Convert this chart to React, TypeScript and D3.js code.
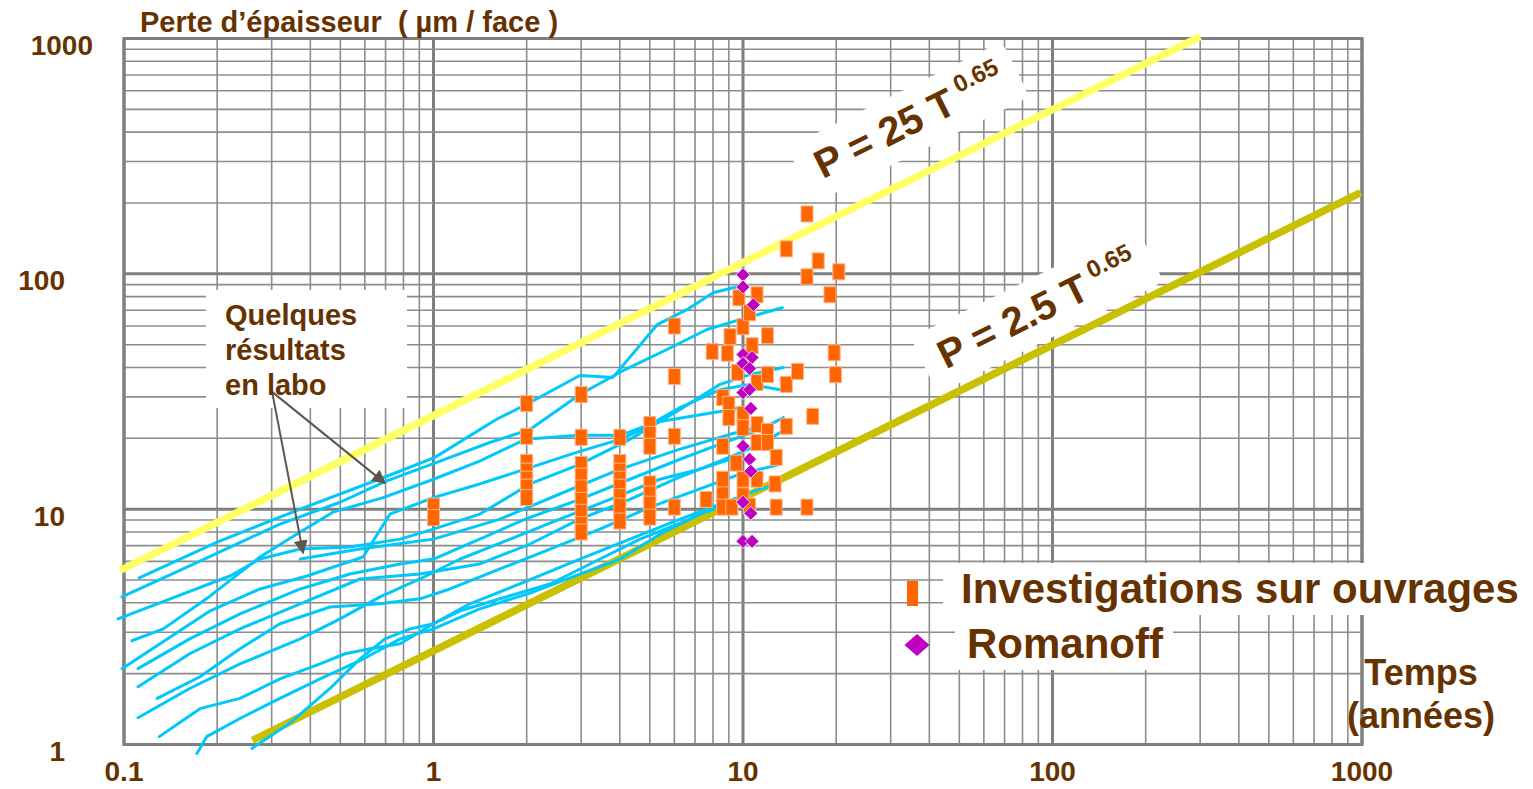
import React from 'react';
import * as d3 from 'd3';

// ---------- data ----------
const xTickValues = [0.1, 1, 10, 100, 1000];
const xTickLabels = ['0.1', '1', '10', '100', '1000'];
const yTickValues = [1, 10, 100, 1000];
const yTickLabels = ['1', '10', '100', '1000'];

const lawExponent = 0.65;
const upperLawCoef = 25;
const lowerLawCoef = 2.5;
const upperLawT = [0.097, 300];
const lowerLawT = [0.26, 990];

// laboratory curves: [T (années), P (µm/face)]
const labCurves: [number, number][][] = [
  [[0.112, 5.1], [0.2, 7.25], [0.371, 10], [0.697, 13.7], [1.01, 16.6], [1.6, 24.1], [2.05, 28.4], [2.97, 37], [3.8, 36.3], [5.28, 60.8], [6.59, 70.4], [8.0, 83.1], [9.57, 88.1]],
  [[0.0985, 4.24], [0.176, 6.02], [0.319, 8.64], [0.499, 10.7], [0.697, 13.1], [1.05, 16], [1.52, 19.2], [2.05, 21.8], [2.97, 30.7], [4.16, 39.2], [5.68, 47.7], [7.65, 58], [9.78, 63.9], [13.4, 71.8]],
  [[0.0957, 3.42], [0.141, 4.16], [0.22, 5.2], [0.275, 6.14], [0.371, 6.77], [0.537, 6.9], [0.78, 7.46], [1.0, 8.23], [1.41, 9.52], [2.05, 12.8], [2.97, 15.5], [4.31, 19.8], [6.26, 26.5], [8.43, 33.9], [10.5, 37.3], [13.5, 40]],
  [[0.106, 2.76], [0.134, 3.1], [0.19, 4.28], [0.275, 6.26], [0.371, 8.0], [0.473, 9.71], [0.687, 11.2], [1.0, 13.4], [1.41, 16], [1.98, 19.8], [2.97, 20.6], [4.01, 20.6], [5.01, 22.9], [6.26, 27], [8.43, 32.2], [10.5, 33.9], [13.2, 32.2]],
  [[0.0985, 2.1], [0.138, 2.81], [0.19, 3.7], [0.275, 4.58], [0.39, 5.2], [0.592, 6.26], [0.723, 9.52], [1.0, 11.2], [1.41, 12.8], [1.98, 14.8], [2.97, 17.6], [4.01, 19.8], [5.39, 23.6], [8.43, 26], [9.78, 27]],
  [[0.111, 2.1], [0.163, 2.81], [0.237, 3.59], [0.371, 4.58], [0.537, 5.3], [0.78, 5.85], [1.0, 6.14], [1.41, 7.46], [1.98, 9.07], [2.97, 11], [4.31, 13.4], [6.26, 16.3], [8.43, 18.9], [11.4, 21.8], [13.5, 24.5]],
  [[0.111, 1.76], [0.163, 2.43], [0.237, 3.1], [0.371, 3.96], [0.579, 5.05], [0.904, 5.3], [1.41, 5.85], [2.05, 7.11], [2.97, 9.07], [4.31, 11], [6.26, 13.7], [8.43, 16], [11.4, 18.9], [13.4, 21.4]],
  [[0.128, 1.57], [0.176, 1.94], [0.237, 2.55], [0.319, 3.26], [0.463, 3.84], [0.672, 3.96], [0.904, 4.16], [1.13, 4.58], [1.64, 5.57], [2.38, 6.77], [3.45, 8.23], [5.01, 10.2], [7.26, 12.2], [9.78, 14.1], [13.2, 15.5]],
  [[0.111, 1.3], [0.163, 1.73], [0.237, 2.2], [0.371, 2.81], [0.499, 3.42], [0.672, 4.24], [0.904, 5.05], [1.22, 6.14], [1.77, 7.46], [2.56, 9.07], [3.72, 11], [5.39, 13.4], [7.26, 14.8], [9.08, 16.3]],
  [[0.13, 1.08], [0.176, 1.42], [0.237, 1.57], [0.319, 1.9], [0.43, 2.2], [0.518, 2.43], [0.624, 2.55], [0.78, 2.68], [1.0, 3.26], [1.31, 3.96], [1.9, 4.81], [2.97, 6.14], [4.31, 7.46], [6.26, 9.07], [8.43, 10.5], [11.4, 12.2], [13.2, 12.8]],
  [[0.172, 0.916], [0.185, 1.08], [0.237, 1.29], [0.319, 1.57], [0.43, 1.9], [0.579, 2.27], [0.78, 2.81], [1.0, 3.1], [1.41, 3.77], [2.05, 4.4], [2.97, 5.3], [4.01, 6.14], [5.39, 7.83], [7.26, 9.52], [9.78, 11]],
  [[0.259, 0.962], [0.343, 1.23], [0.463, 1.73], [0.579, 2.31], [0.697, 2.81], [0.84, 3.1], [1.0, 3.26], [1.22, 3.7], [1.64, 4.16], [2.38, 4.81], [3.45, 6.14], [4.65, 7.46], [6.74, 9.07], [8.0, 10.3]],
  [[0.371, 6.14], [0.579, 6.77], [1.0, 7.46], [1.64, 9.07], [2.56, 11.6], [4.01, 14.8], [6.26, 18], [9.08, 20.8], [12.2, 22.9]],
];

// Investigations sur ouvrages
const investigations: [number, number][] = [
  [1, 10.3], [1, 9.2],
  [2, 28.1], [2, 20.4], [2, 15.8], [2, 14.5], [2, 13.4], [2, 12.4], [2, 11.2],
  [3, 30.7], [3, 20.2], [3, 15.5], [3, 13.8], [3, 12.3], [3, 10.9], [3, 9.7], [3, 8.6], [3, 8.0],
  [4, 20.2], [4, 15.8], [4, 14.5], [4, 13.4], [4, 12.4], [4, 11.3], [4, 10.3], [4, 8.9],
  [5, 22.9], [5, 20.8], [5, 18.5], [5, 12.8], [5, 11.6], [5, 10.5], [5, 9.25],
  [6, 60], [6, 36.6], [6, 20.4], [6, 10.2],
  [7.6, 11.0], [7.95, 46.7], [8.6, 29.8], [8.6, 18.5], [8.6, 13.4], [8.6, 11.5], [8.6, 10.2],
  [8.9, 46], [9.0, 27.9], [9.0, 24.5], [9.08, 54.1], [9.2, 10.2], [9.5, 15.7], [9.6, 38.1],
  [9.7, 79.1], [10, 59.6], [10, 25.3], [10, 22.2], [10, 13.4], [10, 11.4], [10.5, 68.3],
  [10.5, 10.3], [10.7, 49.5], [11.1, 81.5], [11.1, 34.5], [11.1, 22.9], [11.1, 19.2],
  [11.1, 13.4], [12, 54.6], [12, 37.3], [12, 21.4], [12, 19.2], [12.7, 12.8], [12.8, 16.6],
  [12.8, 10.2], [13.8, 127.6], [13.8, 33.9], [13.8, 22.5], [15, 38.5], [16.1, 179.6],
  [16.1, 97.1], [16.1, 10.2], [16.8, 24.8], [17.5, 113.5], [19.1, 81.5], [19.7, 46.2],
  [19.9, 37.3], [20.4, 102],
];

// Romanoff
const romanoff: [number, number][] = [
  [10, 99], [10, 88], [10.8, 73.9], [10, 45.4], [10.7, 44.1], [10, 41.6], [10.5, 39.6],
  [10, 31.3], [10.5, 32.2], [10.6, 26.8], [10, 18.5], [10.5, 16.3], [10.6, 14.5],
  [10, 10.7], [10.6, 9.6], [10, 7.3], [10.7, 7.3],
];

// annotation arrows (data coordinates): tail, tips
const arrowTail: [number, number] = [0.301, 31.5];
const arrowTips: [number, number][] = [[0.379, 6.51], [0.697, 12.9]];

const labelLines = ['Quelques', 'résultats', 'en labo'];
const legendLabels = ['Investigations sur ouvrages', 'Romanoff'];

// ---------- styles ----------
const FONT = '"Liberation Sans", Arial, Helvetica, sans-serif';
const BROWN = '#663300';
const GRID = '#8c8c8c';
const BLUE = '#00c8fa';
const ORANGE = '#ff6600';
const MAGENTA = '#c000c0';

export default function App() {
  const W = 1533, H = 789;
  const x = d3.scaleLog().domain([0.1, 1000]).range([124, 1362]);
  const y = d3.scaleLog().domain([1, 1000]).range([744.5, 38.5]);
  const line = d3.line<[number, number]>().x(d => x(d[0])).y(d => y(d[1]));

  const isMajor = (v: number) => Math.abs(Math.log10(v) - Math.round(Math.log10(v))) < 1e-9;
  const gridX = x.ticks();
  const gridY = y.ticks();

  const law = (c: number, ts: number[]) => ts.map(t => [t, c * Math.pow(t, lawExponent)] as [number, number]);
  const upperLaw = law(upperLawCoef, upperLawT);
  const lowerLaw = law(lowerLawCoef, lowerLawT);

  const angle = (Math.atan(lawExponent * (y(1) - y(10)) / (x(10) - x(1))) * 180) / Math.PI;

  const upperAnchorT = 18.1;
  const lowerAnchorT = 45.3;
  const ua = [x(upperAnchorT), y(upperLawCoef * Math.pow(upperAnchorT, lawExponent)) - 44];
  const la = [x(lowerAnchorT), y(lowerLawCoef * Math.pow(lowerAnchorT, lawExponent)) - 28];

  const [x0, x1] = x.range();
  const [yb, yt] = y.range();

  const diamond = (cx: number, cy: number, r: number, ry: number) =>
    `M${cx},${cy - ry}L${cx + r},${cy}L${cx},${cy + ry}L${cx - r},${cy}Z`;

  const lawLabel = (pos: number[], main: string, boxW: number, withText: boolean) => (
    <g transform={`translate(${pos[0]},${pos[1]}) rotate(${-angle})`}>
      {withText ? (
        <text fontFamily={FONT} fontWeight="bold" fontSize={40} fill={BROWN} style={{ whiteSpace: 'pre' }}>
          {main}
          <tspan dx={8} dy={-17} fontSize={24}>0.65</tspan>
        </text>
      ) : (
        <rect x={-18} y={-44} width={boxW} height={62} rx={10} fill="#fff" />
      )}
    </g>
  );

  return (
    <div style={{ position: 'absolute', left: 0, top: 0 }}>
      <svg width={W} height={H} viewBox={`0 0 ${W} ${H}`} style={{ display: 'block', background: '#fff' }}>
        {/* grid */}
        <g>
          {gridX.map((v, i) => (
            <line key={'gx' + i} x1={x(v)} x2={x(v)} y1={yt} y2={yb}
              stroke={isMajor(v) ? '#7f7f7f' : GRID} strokeWidth={isMajor(v) ? 3 : 1.6} />
          ))}
          {gridY.map((v, i) => (
            <line key={'gy' + i} x1={x0} x2={x1} y1={y(v)} y2={y(v)}
              stroke={isMajor(v) ? '#7f7f7f' : GRID} strokeWidth={isMajor(v) ? 3 : 1.6} />
          ))}
          <rect x={x0} y={yt} width={x1 - x0} height={yb - yt} fill="none" stroke="#7f7f7f" strokeWidth={3} />
        </g>

        {/* white label boxes over the grid */}
        <rect x={206} y={290} width={201} height={118} fill="#fff" />
        <rect x={943} y={563} width={590} height={52} fill="#fff" />
        <rect x={955} y={612} width={218} height={58} fill="#fff" />
        {lawLabel(ua, 'P = 25 T', 240, false)}
        {lawLabel(la, 'P = 2.5 T', 252, false)}

        {/* law lines */}
        <path d={line(upperLaw) || ''} fill="none" stroke="#ffff66" strokeWidth={7.5} />
        <path d={line(lowerLaw) || ''} fill="none" stroke="#c8c000" strokeWidth={7.5} />

        {/* lab curves */}
        <g fill="none" stroke={BLUE} strokeWidth={3} strokeLinejoin="round" strokeLinecap="round">
          {labCurves.map((c, i) => <path key={'c' + i} d={line(c) || ''} />)}
        </g>

        {/* investigations */}
        <g>
          {investigations.map((d, i) => (
            <rect key={'o' + i} x={x(d[0]) - 6} y={y(d[1]) - 8} width={12} height={16}
              fill={ORANGE} stroke="#ffb38a" strokeWidth={1} />
          ))}
        </g>
        {/* Romanoff */}
        <g>
          {romanoff.map((d, i) => (
            <path key={'r' + i} d={diamond(x(d[0]), y(d[1]), 7, 7)} fill={MAGENTA} stroke="#fff" strokeWidth={0.8} />
          ))}
        </g>

        {/* arrows */}
        <defs>
          <marker id="ah" viewBox="0 0 10 10" refX="9" refY="5" markerWidth="7" markerHeight="7" orient="auto" markerUnits="strokeWidth">
            <path d="M0,0L10,5L0,10Z" fill="#5f554c" />
          </marker>
        </defs>
        {arrowTips.map((t, i) => (
          <line key={'a' + i} x1={x(arrowTail[0])} y1={y(arrowTail[1])} x2={x(t[0])} y2={y(t[1])}
            stroke="#5f554c" strokeWidth={2} markerEnd="url(#ah)" />
        ))}

        {/* law labels */}
        {lawLabel(ua, 'P = 25 T', 240, true)}
        {lawLabel(la, 'P = 2.5 T', 252, true)}

        {/* texts */}
        <g fontFamily={FONT} fontWeight="bold" fill={BROWN}>
          <text x={140} y={32} fontSize={29} style={{ whiteSpace: 'pre' }}>Perte d’épaisseur  ( µm / face )</text>
          {labelLines.map((t, i) => (
            <text key={'l' + i} x={225} y={325 + i * 35} fontSize={29}>{t}</text>
          ))}
          {yTickValues.map((v, i) => (
            <text key={'yt' + i} x={v === 1000 ? 93 : 65} y={y(v) + 16.5} fontSize={28} textAnchor="end">{yTickLabels[i]}</text>
          ))}
          {xTickValues.map((v, i) => (
            <text key={'xt' + i} x={x(v)} y={781} fontSize={28} textAnchor="middle">{xTickLabels[i]}</text>
          ))}
          <text x={1421} y={685} fontSize={36} textAnchor="middle">Temps</text>
          <text x={1421} y={728} fontSize={36} textAnchor="middle">(années)</text>
          <text x={961} y={603} fontSize={42}>{legendLabels[0]}</text>
          <text x={967} y={658} fontSize={42}>{legendLabels[1]}</text>
        </g>

        {/* legend markers */}
        <rect x={907} y={581} width={11} height={25} fill={ORANGE} />
        <path d={diamond(917, 645, 12.5, 11)} fill={MAGENTA} />
      </svg>
    </div>
  );
}
